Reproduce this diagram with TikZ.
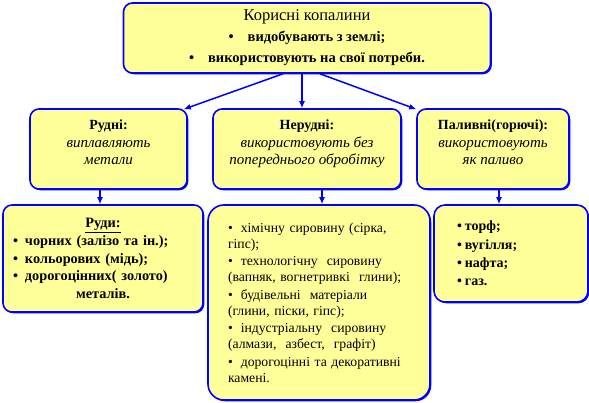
\documentclass[tikz,border=0pt]{standalone}
\usepackage{fontspec}
\setmainfont{Liberation Serif}
\usetikzlibrary{shadows,arrows.meta}
\definecolor{boxfill}{HTML}{FFFF99}
\definecolor{boxline}{HTML}{0000FF}
\begin{document}
\begin{tikzpicture}[x=1pt,y=-1pt,
  box/.style={draw=boxline, line width=1.6pt, fill=boxfill, rounded corners=9pt,
    drop shadow={shadow xshift=1.3pt,shadow yshift=-1.3pt,fill=boxline,opacity=1},
    inner sep=0pt, text=black},
  conn/.style={draw=boxline, line width=1.5pt, -{Latex[length=7pt,width=6pt]}}]
\useasboundingbox (0,0) rectangle (589,403);
\node[box, minimum width=367pt, minimum height=70pt, align=center,
  font=\fontsize{14.5}{21}\selectfont] (top) at (307,38)
  {{\fontsize{16.5}{21}\selectfont Корисні копалини}\\
   \textbf{\textbullet\hspace{14pt}видобувають з землі;}\\
   \textbf{\textbullet\hspace{14pt}використовують на свої потреби.}\\[-17pt]};
\node[box, minimum width=157pt, minimum height=80pt, align=center,
  font=\fontsize{14}{17.5}\selectfont] (rud) at (108.5,149)
  {\textbf{Рудні:}\\ {\fontsize{15}{17.5}\selectfont\itshape виплавляють}\\ {\fontsize{15}{17.5}\selectfont\itshape метали}\\[-4.5pt]};
\node[box, minimum width=188pt, minimum height=80pt, align=center,
  font=\fontsize{14}{17.5}\selectfont] (nerud) at (307,149)
  {\textbf{Нерудні:}\\ {\fontsize{15}{17.5}\selectfont\itshape використовують без}\\ {\fontsize{15}{17.5}\selectfont\itshape попереднього обробітку}\\[-4.5pt]};
\node[box, minimum width=152pt, minimum height=80pt, align=center,
  font=\fontsize{14}{17.5}\selectfont] (pal) at (493,149)
  {\textbf{Паливні(горючі):}\\ {\fontsize{15}{17.5}\selectfont\itshape використовують}\\ {\fontsize{15}{17.5}\selectfont\itshape як паливо}\\[-4.5pt]};
\node[box, minimum width=200pt, minimum height=107pt, align=left, text width=180pt,
  font=\fontsize{14.3}{17.7}\selectfont\bfseries] (rudy) at (103,258.5)
  {\makebox[180pt][c]{\underline{Руди:}}\\
   \textbullet\hspace{7pt}чорних (залізо та ін.);\\
   \textbullet\hspace{7pt}кольорових (мідь);\\
   \textbullet\hspace{7pt}дорогоцінних( золото)\\
   \makebox[180pt][c]{металів.}};
\node[box, rounded corners=16pt, minimum width=222pt, minimum height=195pt, align=left,
  text width=182pt, font=\fontsize{13.7}{16}\selectfont] (mid) at (319,302.5)
  {\textbullet\hspace{8pt}хімічну сировину (сірка,\\
   гіпс);\\[1.5pt]
   \textbullet\hspace{8pt}технологічну\ \ сировину\\
   (вапняк, вогнетривкі\ \ глини);\\[1.5pt]
   \textbullet\hspace{8pt}будівельні\ \ матеріали\\
   (глини, піски, гіпс);\\[1.5pt]
   \textbullet\hspace{8pt}індустріальну\ \ сировину\\
   (алмази,\ \ азбест,\ \ графіт)\\[1.5pt]
   \textbullet\hspace{8pt}дорогоцінні та декоративні\\
   камені.\\[8pt]};
\node[box, rounded corners=11pt, minimum width=154pt, minimum height=97pt,
  font=\fontsize{14}{18.3}\selectfont\bfseries, align=left, text width=108pt] (fuel) at (511,253.5)
  {\textbullet\hspace{3pt}торф;\\
   \textbullet\hspace{3pt}вугілля;\\
   \textbullet\hspace{3pt}нафта;\\
   \textbullet\hspace{3pt}газ.\\[4pt]};
\draw[conn] ([xshift=-24pt]top.south) -- ([xshift=-4pt,yshift=-1pt]rud.north east);
\draw[conn] ([xshift=-5pt]top.south) -- ([xshift=-5pt]top.south |- nerud.north);
\draw[conn] ([xshift=13pt]top.south) -- ([yshift=-1pt]pal.north west);
\draw[conn] ([xshift=-8.5pt]rud.south) -- ([xshift=-8.5pt]rud.south |- rudy.north);
\draw[conn] ([xshift=15pt]nerud.south) -- ([xshift=15pt]nerud.south |- mid.north);
\draw[conn] ([xshift=6pt]pal.south) -- ([xshift=6pt]pal.south |- fuel.north);
\end{tikzpicture}
\end{document}
